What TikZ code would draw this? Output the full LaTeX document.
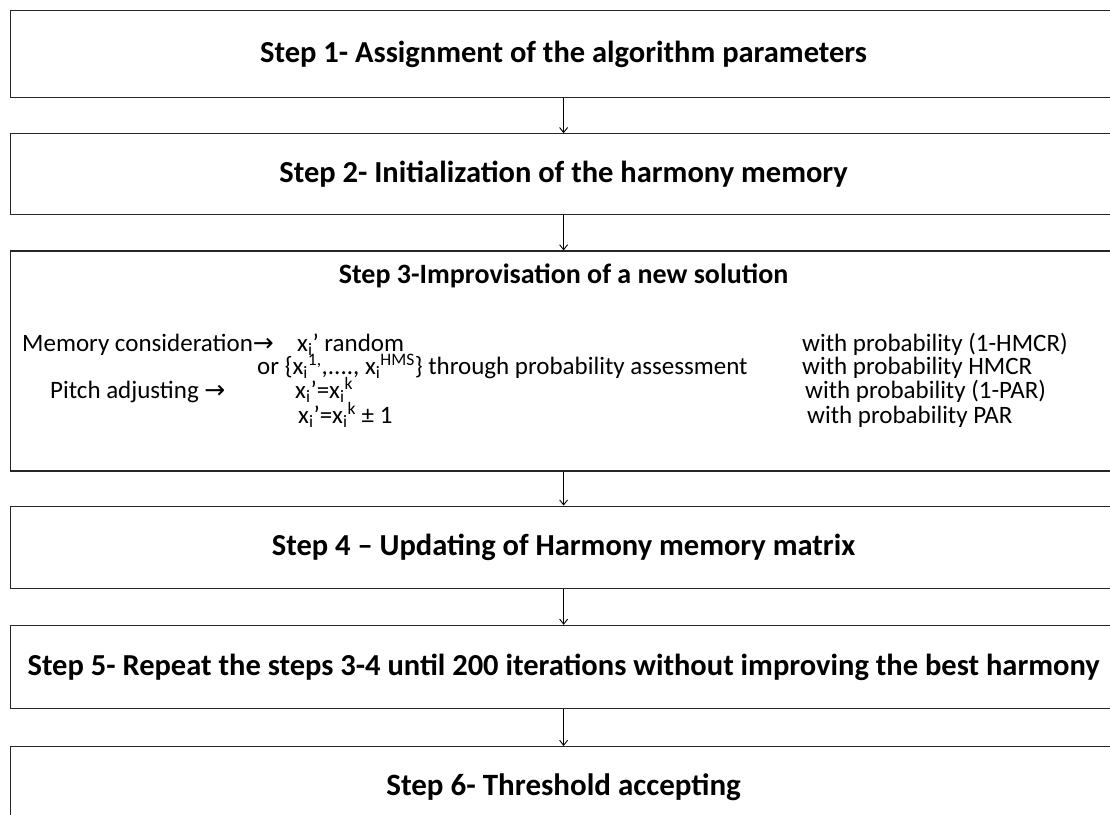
\documentclass[tikz,border=0pt]{standalone}
\usepackage{fontspec}
\setmainfont{Carlito}
\newfontfamily\arrowfont{DejaVu Sans}
\usetikzlibrary{arrows.meta,positioning}

\begin{document}
\begin{tikzpicture}[
  x=1pt, y=-1pt,
  >={Straight Barb[length=5pt,width=8pt]},
  stepbox/.style={draw=black!85, line width=1.2pt, minimum width=1106pt, inner sep=0pt, font=\fontsize{30.5}{35}\selectfont\bfseries},
  body/.style={anchor=base west, inner sep=0pt, font=\fontsize{25}{30}\selectfont},
  arr/.style={->, line width=0.9pt},
]
\useasboundingbox (0,0) rectangle (1110,814);
% the six steps
\node[stepbox, minimum height=87pt, anchor=north west] (s1) at (10,10) {Step 1- Assignment of the algorithm parameters};
\node[stepbox, minimum height=81pt, below=35pt of s1] (s2) {Step 2- Initialization of the harmony memory};
\node[stepbox, minimum height=220pt, below=35pt of s2] (s3) {};
\node[stepbox, minimum height=82pt, below=34pt of s3] (s4) {Step 4 – Updating of Harmony memory matrix};
\node[stepbox, minimum height=83pt, below=36pt of s4] (s5) {Step 5- Repeat the steps 3-4 until 200 iterations without improving the best harmony};
\node[stepbox, minimum height=82pt, below=37pt of s5, font=\fontsize{31}{36}\selectfont\bfseries] (s6) {Step 6- Threshold accepting};
% contents of step 3
\node[anchor=base, inner sep=0pt, font=\fontsize{28}{32}\selectfont\bfseries] (s3title) at ([yshift=-33pt]s3.north) {Step 3-Improvisation of a new solution};
\node[body] (memory) at ([xshift=12pt, yshift=-101pt]s3.north west) {Memory consideration{\arrowfont →}};
\node[body] (xrand) at ([xshift=287pt, yshift=-101pt]s3.north west) {x\textsubscript{i}’ random};
\node[body] (pr1) at ([xshift=792pt, yshift=-101pt]s3.north west) {with probability (1-HMCR)};
\node[body] (xhm) at ([xshift=247pt, yshift=-124pt]s3.north west) {or \{x\textsubscript{i}\textsuperscript{1,},...., x\textsubscript{i}\textsuperscript{HMS}\} through probability assessment};
\node[body] (pr2) at ([xshift=792pt, yshift=-124pt]s3.north west) {with probability HMCR};
\node[body] (pitch) at ([xshift=40pt, yshift=-148pt]s3.north west) {Pitch adjusting {\arrowfont →}};
\node[body] (xk) at ([xshift=285pt, yshift=-148pt]s3.north west) {x\textsubscript{i}’=x\textsubscript{i}\textsuperscript{k}};
\node[body] (pr3) at ([xshift=795pt, yshift=-148pt]s3.north west) {with probability (1-PAR)};
\node[body] (xpm) at ([xshift=288pt, yshift=-173pt]s3.north west) {x\textsubscript{i}’=x\textsubscript{i}\textsuperscript{k} ± 1};
\node[body] (pr4) at ([xshift=797pt, yshift=-173pt]s3.north west) {with probability PAR};
% arrows
\draw[arr] (s1) -- (s2);
\draw[arr] (s2) -- (s3);
\draw[arr] (s3) -- (s4);
\draw[arr] (s4) -- (s5);
\draw[arr] (s5) -- (s6);
\end{tikzpicture}
\end{document}
